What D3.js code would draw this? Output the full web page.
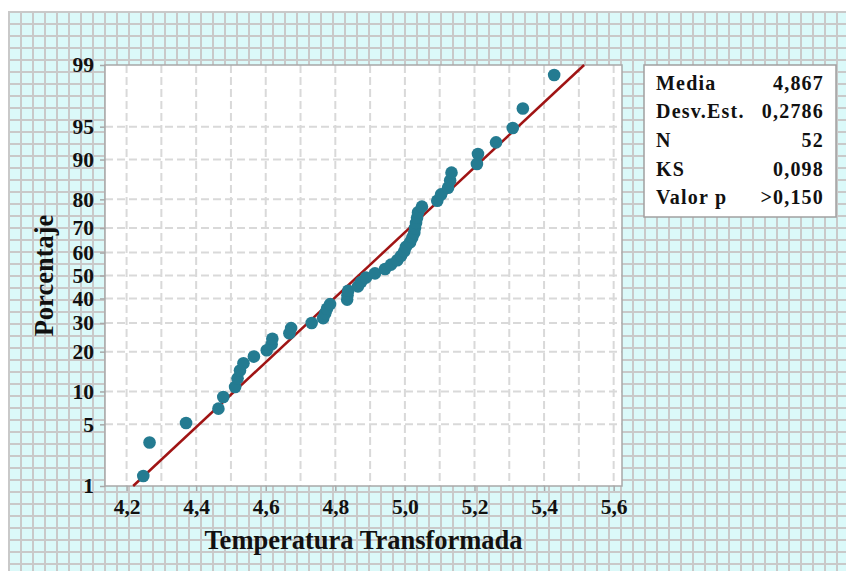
<!DOCTYPE html>
<html>
<head>
<meta charset="utf-8">
<script src="https://cdn.jsdelivr.net/npm/d3@7"></script>
<style>
  html, body { margin: 0; padding: 0; background: #ffffff; }
  svg { display: block; }
  text { font-family: "Liberation Serif", "Times New Roman", serif; font-weight: bold; fill: #111; }
</style>
</head>
<body>
<svg id="chart" width="846" height="571"></svg>
<script>
// ---- data ----
const temps = [
  4.248, 4.266, 4.371, 4.464, 4.478, 4.512, 4.519, 4.526, 4.536, 4.566,
  4.603, 4.617, 4.619, 4.668, 4.673, 4.732, 4.765, 4.771, 4.776, 4.785,
  4.834, 4.835, 4.837, 4.865, 4.874, 4.888, 4.914, 4.943, 4.960, 4.978,
  4.989, 4.998, 5.003, 5.015, 5.021, 5.027, 5.029, 5.032, 5.035, 5.038,
  5.049, 5.093, 5.104, 5.124, 5.130, 5.134, 5.207, 5.210, 5.262, 5.310,
  5.339, 5.429
];
const fitMean = 4.867;
const fitSd = 0.2786;
const yTickValues = [1, 5, 10, 20, 30, 40, 50, 60, 70, 80, 90, 95, 99];
const xTickValues = [4.2, 4.4, 4.6, 4.8, 5.0, 5.2, 5.4, 5.6];
const xGridValues = [4.2, 4.3, 4.4, 4.5, 4.6, 4.7, 4.8, 4.9, 5.0, 5.1, 5.2, 5.3, 5.4, 5.5, 5.6];
const statLabels = ["Media", "Desv.Est.", "N", "KS", "Valor p"];
const statValues = ["4,867", "0,2786", "52", "0,098", ">0,150"];
const xTitle = "Temperatura Transformada";
const yTitle = "Porcentaje";

// inverse standard normal CDF (Acklam)
function probit(p) {
  const a = [-3.969683028665376e+01, 2.209460984245205e+02, -2.759285104469687e+02, 1.383577518672690e+02, -3.066479806614716e+01, 2.506628277459239e+00];
  const b = [-5.447609879822406e+01, 1.615858368580409e+02, -1.556989798598866e+02, 6.680131188771972e+01, -1.328068155288572e+01];
  const c = [-7.784894002430293e-03, -3.223964580411365e-01, -2.400758277161838e+00, -2.549732539343734e+00, 4.374664141464968e+00, 2.938163982698783e+00];
  const d = [7.784695709041462e-03, 3.224671290700398e-01, 2.445134137142996e+00, 3.754408661907416e+00];
  const pl = 0.02425, ph = 1 - pl;
  let q, r;
  if (p < pl) {
    q = Math.sqrt(-2 * Math.log(p));
    return (((((c[0]*q+c[1])*q+c[2])*q+c[3])*q+c[4])*q+c[5]) / ((((d[0]*q+d[1])*q+d[2])*q+d[3])*q+1);
  } else if (p <= ph) {
    q = p - 0.5; r = q*q;
    return (((((a[0]*r+a[1])*r+a[2])*r+a[3])*r+a[4])*r+a[5])*q / (((((b[0]*r+b[1])*r+b[2])*r+b[3])*r+b[4])*r+1);
  } else {
    q = Math.sqrt(-2 * Math.log(1 - p));
    return -(((((c[0]*q+c[1])*q+c[2])*q+c[3])*q+c[4])*q+c[5]) / ((((d[0]*q+d[1])*q+d[2])*q+d[3])*q+1);
  }
}

const W = 846, H = 571;
const svg = d3.select("#chart");

// ---- background graph-paper grid ----
const bgLeft = 9, bgTop = 12, pitch = 12;
svg.append("rect").attr("x", bgLeft).attr("y", bgTop)
  .attr("width", W - bgLeft).attr("height", H - bgTop).attr("fill", "#dbf9f9");
const bg = svg.append("g").attr("stroke", "#c9c9c9").attr("stroke-width", 2);
bg.selectAll("line.v").data(d3.range(bgLeft, W + 1, pitch)).join("line")
  .attr("class", "v").attr("x1", d => d).attr("x2", d => d).attr("y1", bgTop - 1).attr("y2", H);
bg.selectAll("line.h").data(d3.range(bgTop, H + 1, pitch)).join("line")
  .attr("class", "h").attr("y1", d => d).attr("y2", d => d).attr("x1", bgLeft - 1).attr("x2", W);

// ---- plot area ----
const pL = 105, pR = 622, pT = 65, pB = 486;
const zMax = probit(0.99);
const x = d3.scaleLinear().domain([4.138, 5.624]).range([pL, pR]);
const y = d3.scaleLinear().domain([-zMax, zMax]).range([pB, pT]);
const yP = p => y(probit(p / 100));

svg.append("rect").attr("x", pL).attr("y", pT).attr("width", pR - pL).attr("height", pB - pT)
  .attr("fill", "#ffffff");

// gridlines
const grid = svg.append("g").attr("stroke", "#d9d9d9").attr("stroke-width", 2).attr("stroke-dasharray", "8,4");
grid.selectAll("line.gx").data(xGridValues).join("line").attr("class", "gx")
  .attr("x1", d => x(d)).attr("x2", d => x(d)).attr("y1", pT).attr("y2", pB);
grid.selectAll("line.gy").data(yTickValues.filter(v => v !== 1 && v !== 99)).join("line").attr("class", "gy")
  .attr("y1", d => yP(d)).attr("y2", d => yP(d)).attr("x1", pL).attr("x2", pR);

// border
svg.append("rect").attr("x", pL).attr("y", pT).attr("width", pR - pL).attr("height", pB - pT)
  .attr("fill", "none").attr("stroke", "#a8a8a8").attr("stroke-width", 1.5);

// axes
const yAxisScale = d3.scaleLinear().domain([-zMax, zMax]).range([pB, pT]);
const yAxis = d3.axisLeft(yAxisScale)
  .tickValues(yTickValues.map(v => probit(v / 100)))
  .tickFormat((d, i) => String(yTickValues[i]))
  .tickSize(5).tickPadding(6);
const gy = svg.append("g").attr("transform", `translate(${pL},0)`).call(yAxis);
gy.select(".domain").remove();
gy.selectAll(".tick line").attr("stroke", "#a8a8a8").attr("stroke-width", 1.5);
gy.selectAll(".tick text").attr("font-size", 21.5).attr("font-family", "Liberation Serif, Times New Roman, serif")
  .attr("font-weight", "bold").attr("fill", "#111");

const fmt = d => d3.format(".1f")(d).replace(".", ",");
const xAxis = d3.axisBottom(x).tickValues(xTickValues).tickFormat(fmt).tickSize(5).tickPadding(8);
const gx = svg.append("g").attr("transform", `translate(0,${pB})`).call(xAxis);
gx.select(".domain").remove();
gx.selectAll(".tick line").attr("stroke", "#a8a8a8").attr("stroke-width", 1.5);
gx.selectAll(".tick text").attr("font-size", 21.5).attr("font-family", "Liberation Serif, Times New Roman, serif")
  .attr("font-weight", "bold").attr("fill", "#111");

// fitted line
const line = d3.line().x(d => x(d[0])).y(d => y(d[1]));
svg.append("path")
  .datum([[fitMean - zMax * fitSd, -zMax], [fitMean + zMax * fitSd, zMax]])
  .attr("d", line).attr("stroke", "#a01414").attr("stroke-width", 2.5).attr("fill", "none");

// points (median-rank plotting positions)
const n = temps.length;
const sorted = temps.slice().sort(d3.ascending);
svg.append("g").selectAll("circle").data(sorted).join("circle")
  .attr("cx", d => x(d))
  .attr("cy", (d, i) => y(probit((i + 1 - 0.3) / (n + 0.4))))
  .attr("r", 6.3).attr("fill", "#247b91");

// axis titles
svg.append("text").attr("x", (pL + pR) / 2).attr("y", 549).attr("text-anchor", "middle")
  .attr("font-size", 26.5).text(xTitle);
svg.append("text").attr("transform", `translate(53,${(pT + pB) / 2}) rotate(-90)`)
  .attr("text-anchor", "middle").attr("font-size", 26.5).text(yTitle);

// stats box
const bx = 644, by = 65, bw = 192, bh = 152;
svg.append("rect").attr("x", bx).attr("y", by).attr("width", bw).attr("height", bh)
  .attr("fill", "#ffffff").attr("stroke", "#a0a0a0").attr("stroke-width", 1.5);
const rowY = i => 89.5 + i * 28.7;
const sb = svg.append("g");
sb.selectAll("text.lab").data(statLabels).join("text").attr("class", "lab")
  .attr("x", 656).attr("y", (d, i) => rowY(i)).attr("font-size", 20)
  .attr("letter-spacing", 1.2).text(d => d);
sb.selectAll("text.val").data(statValues).join("text").attr("class", "val")
  .attr("x", 824).attr("y", (d, i) => rowY(i)).attr("font-size", 20)
  .attr("letter-spacing", 1.2).attr("text-anchor", "end").text(d => d);
</script>
</body>
</html>
